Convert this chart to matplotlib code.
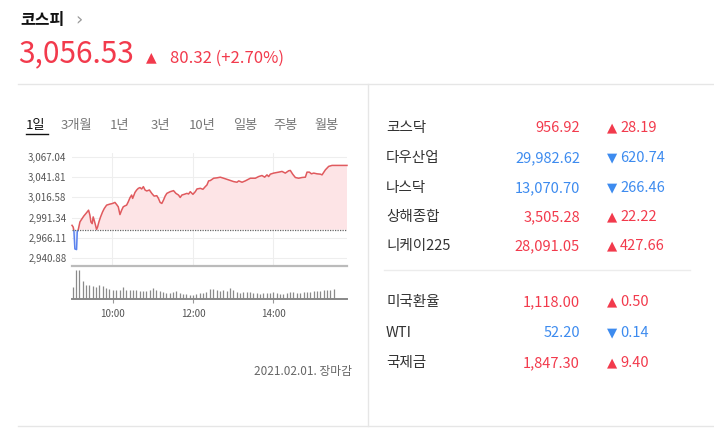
import numpy as np
import matplotlib.pyplot as plt
from matplotlib.patches import Rectangle
from matplotlib.lines import Line2D

plt.rcParams['font.family'] = ['Noto Sans CJK KR', 'DejaVu Sans']

W, H = 714, 438

# ------------------------------------------------------------
# data
# ------------------------------------------------------------
index_name = "코스피"
index_value = "3,056.53"
index_change = "80.32 (+2.70%)"
prev_close = 2976.21

tabs = ["1일", "3개월", "1년", "3년", "10년", "일봉", "주봉", "월봉"]

# minutes after 09:00, price
t_min = [0, 1.8, 2.8, 4.3, 6.8, 7.8, 9.3, 11.8, 14.3, 17.7, 20.7, 22.7, 24.7,
         26.7, 28.2, 30.1, 31.6, 33.1, 35.1, 36.6, 38.1, 40.1, 42.6, 45.6,
         48.1, 51.6, 56.5, 60.5, 64.0, 66.5, 69.0, 71.5, 74.0, 76.4, 78.9,
         81.4, 83.9, 86.4, 88.9, 90.4, 92.4, 93.9, 96.4, 98.9, 101.4, 103.9,
         106.4, 108.9, 111.4, 115.4, 118.9, 122.4, 126.4, 128.9, 131.4,
         133.9, 136.4, 138.9, 141.4, 146.4, 151.4, 154.9, 158.8, 161.3,
         163.8, 167.3, 171.3, 173.8, 176.3, 180.3, 183.8, 186.3, 191.3,
         195.2, 198.7, 201.2, 203.7, 206.2, 211.2, 216.2, 221.1, 226.1,
         233.6, 241.0, 246.0, 248.5, 253.5, 258.4, 265.9, 273.3, 278.3,
         283.3, 287.2, 290.7, 293.2, 295.7, 300.7, 308.1, 313.1, 318.0,
         323.0, 325.5, 329.0, 333.0, 337.9, 342.9, 347.9, 350.4, 353.9,
         356.9, 360.4, 365.3, 370.3, 372.8, 377.8, 382.7, 387.7, 410.0]
price = [2981.7, 2979.5, 2975.4, 2952.2, 2951.4, 2973.3, 2976.2, 2985.9,
         2989.2, 2993.4, 2996.4, 2998.5, 3000.6, 2994.3, 2985.9, 2983.8,
         2992.2, 2988.0, 2981.7, 2976.6, 2979.5, 2985.9, 2992.2, 2998.5,
         3002.7, 3006.9, 3008.2, 3009.0, 3010.3, 3007.7, 3004.8, 2995.1,
         3000.6, 3004.8, 3006.0, 3006.9, 3011.1, 3016.1, 3019.5, 3015.3,
         3019.5, 3022.8, 3025.8, 3027.9, 3028.8, 3027.1, 3030.0, 3025.8,
         3024.6, 3025.8, 3021.6, 3018.2, 3018.7, 3015.3, 3010.3, 3009.0,
         3013.2, 3018.2, 3021.6, 3023.7, 3025.0, 3021.6, 3019.5, 3016.5,
         3019.5, 3020.4, 3021.6, 3020.8, 3023.7, 3020.4, 3023.7, 3027.1,
         3027.9, 3026.7, 3030.0, 3032.1, 3037.2, 3037.6, 3040.5, 3041.0,
         3041.8, 3040.5, 3038.4, 3036.3, 3035.5, 3037.2, 3035.5, 3037.2,
         3040.5, 3040.5, 3042.6, 3043.9, 3041.8, 3044.7, 3042.6, 3045.6,
         3046.9, 3048.1, 3049.0, 3046.9, 3049.8, 3050.2, 3045.6, 3041.4,
         3040.5, 3041.4, 3041.8, 3048.1, 3048.1, 3046.0, 3046.9, 3046.0,
         3045.6, 3044.7, 3051.0, 3055.3, 3056.5, 3056.5]

y_ticks = [2940.88, 2966.11, 2991.34, 3016.58, 3041.81, 3067.04]
x_ticks = [60, 180, 300]
x_labels = ["10:00", "12:00", "14:00"]

# 5-minute volume bars 09:00 ~ 15:20, plus closing bar 15:30
vol = [36, 88, 88, 56, 43, 41, 38, 35, 43, 38,
       33, 30, 28, 28, 28, 36, 28, 28, 28,
       26, 25, 25, 23, 26, 33, 28, 23, 20, 18,
       18, 20, 23, 18, 16, 16, 13, 13, 15, 18,
       18, 20, 30, 30, 28, 23, 26, 23, 33, 26,
       21, 18, 21, 21, 21, 18, 18, 16, 18, 18,
       18, 20, 18, 16, 16, 18, 20, 21, 18, 18,
       21, 21, 21, 23, 23, 23, 26, 26, 28]
vol_close = 30

names_1 = ["코스닥", "다우산업", "나스닥", "상해종합", "니케이225"]
values_1 = ["956.92", "29,982.62", "13,070.70", "3,505.28", "28,091.05"]
changes_1 = ["28.19", "620.74", "266.46", "22.22", "427.66"]
up_1 = [True, False, False, True, True]

names_2 = ["미국환율", "WTI", "국제금"]
values_2 = ["1,118.00", "52.20", "1,847.30"]
changes_2 = ["0.50", "0.14", "9.40"]
up_2 = [True, False, True]

date_note = "2021.02.01. 장마감"

# ------------------------------------------------------------
RED = "#f23a4c"
BLUE = "#3d8bef"
LINE_RED = "#e05a5e"
LINE_BLUE = "#5b82ee"


def fx(x):
    return x / W


def fy(y):
    return 1 - y / H


fig = plt.figure(figsize=(W / 100, H / 100), dpi=100)
fig.patch.set_facecolor("white")

# frame lines
for (x0, y0, x1, y1) in [(18, 84, 714, 84), (18, 426, 714, 426), (368, 84, 368, 426)]:
    fig.add_artist(Line2D([fx(x0), fx(x1)], [fy(y0), fy(y1)], color="#e6e6e6", lw=1))
fig.add_artist(Line2D([fx(384), fx(690)], [fy(270), fy(270)], color="#ececec", lw=1))

# header
fig.text(fx(20), fy(20), index_name, fontsize=11.5, fontweight="bold", color="#111",
         va="center", ha="left")
fig.text(fx(75), fy(20), "›", fontsize=13, color="#999", va="center", ha="left",
         family=["DejaVu Sans"])
fig.text(fx(18), fy(54), index_value, fontsize=21.5, color=RED, va="center", ha="left")
fig.text(fx(146), fy(57), "▲", fontsize=10, color=RED, va="center", ha="left",
         family=["DejaVu Sans"])
fig.text(fx(170), fy(58), index_change, fontsize=12, color=RED, va="center", ha="left")

# tabs
tab_x = [26, 61, 110, 151, 189, 233, 273, 314]
for i, (tx, lab) in enumerate(zip(tab_x, tabs)):
    fig.text(fx(tx), fy(125), lab, fontsize=9.5, color="#111" if i == 0 else "#777",
             va="center", ha="left")
fig.add_artist(Line2D([fx(26), fx(48)], [fy(134), fy(134)], color="#111", lw=1))

# price chart
ax = fig.add_axes([fx(72), fy(266), fx(347) - fx(72), (266 - 153) / H])
t = np.array(t_min)
p = np.array(price)
ax.set_xlim(0, 410)
ax.set_ylim(2930.9, 3072.0)

ax.fill_between(t, p, prev_close, where=p >= prev_close, interpolate=True,
                color="#fde4e6", lw=0)
ax.fill_between(t, p, prev_close, where=p <= prev_close, interpolate=True,
                color="#e3ebfd", lw=0)
red_line, = ax.plot(t, p, color=LINE_RED, lw=1.1)
blue_line, = ax.plot(t, p, color=LINE_BLUE, lw=1.1)
red_line.set_clip_path(Rectangle((-10, prev_close), 500, 500, transform=ax.transData))
blue_line.set_clip_path(Rectangle((-10, prev_close - 500), 500, 500, transform=ax.transData))
ax.axhline(prev_close, color="#666", lw=0.9, ls=(0, (1, 1)))

ax.set_yticks(y_ticks)
ax.set_yticklabels([f"{v:,.2f}" for v in y_ticks])
ax.set_xticks(x_ticks)
ax.tick_params(axis="y", length=0, pad=4, labelsize=7, labelcolor="#555")
ax.tick_params(axis="x", length=0, labelbottom=False)
ax.grid(True, color="#eeeeee", lw=0.8)
ax.set_axisbelow(True)
for s in ["top", "right", "left"]:
    ax.spines[s].set_visible(False)
ax.spines["bottom"].set_color("#bbbbbb")
ax.spines["bottom"].set_linewidth(1.6)
ax.set_facecolor("none")

# volume chart
axv = fig.add_axes([fx(72), fy(299), fx(347) - fx(72), (299 - 267) / H])
vt = np.arange(len(vol)) * 5
axv.vlines(vt, 0, vol, color="#8a8a8a", lw=0.9)
axv.vlines([390], 0, [vol_close], color="#8a8a8a", lw=0.9)
axv.set_xlim(-1, 410)
axv.set_ylim(0, 97)
axv.set_yticks([])
axv.set_xticks(x_ticks)
axv.set_xticklabels(x_labels)
axv.tick_params(axis="x", length=3, width=0.8, color="#999", pad=4,
                labelsize=7, labelcolor="#555")
for s in ["top", "right", "left"]:
    axv.spines[s].set_visible(False)
axv.spines["bottom"].set_color("#888888")
axv.spines["bottom"].set_linewidth(1.4)
axv.set_facecolor("none")

fig.text(fx(352), fy(371), date_note, fontsize=8.5, color="#666", ha="right", va="center")


# right table
def draw_rows(names, values, changes, ups, ys):
    for n, v, c, u, y in zip(names, values, changes, ups, ys):
        col = RED if u else BLUE
        fig.text(fx(386), fy(y), n, fontsize=10.5, color="#333", ha="left", va="center")
        fig.text(fx(580), fy(y), v, fontsize=10.5, color=col, ha="right", va="center")
        fig.text(fx(607), fy(y), "▲" if u else "▼", fontsize=9.5, color=col,
                 ha="left", va="center", family=["DejaVu Sans"])
        fig.text(fx(620), fy(y), c, fontsize=10.5, color=col, ha="left", va="center")


draw_rows(names_1, values_1, changes_1, up_1, [128, 158, 188, 217, 246])
draw_rows(names_2, values_2, changes_2, up_2, [302, 333, 363])

fig.savefig("out.png", dpi=100)
